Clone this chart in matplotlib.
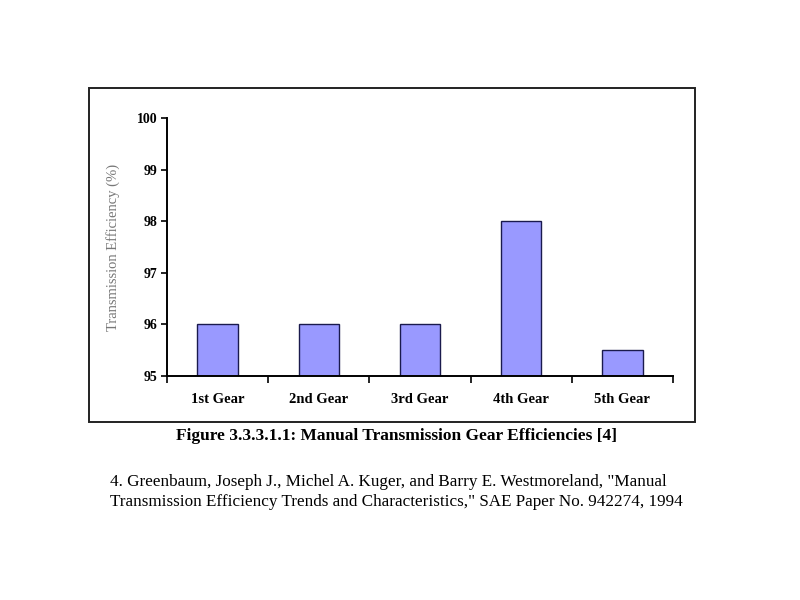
import matplotlib
matplotlib.use("Agg")
import matplotlib.pyplot as plt
from matplotlib.patches import Rectangle
import numpy as np

gears = ["1st Gear", "2nd Gear", "3rd Gear", "4th Gear", "5th Gear"]
efficiency = [96.0, 96.0, 96.0, 98.0, 95.5]
yticks = [95, 96, 97, 98, 99, 100]

plt.rcParams["font.family"] = ["Liberation Serif", "DejaVu Serif"]

fig = plt.figure(figsize=(8, 6), dpi=100)
fig.patch.set_facecolor("white")

# outer frame around chart
fig.add_artist(Rectangle((89/800, 1-422/600), (695-89)/800, (422-88)/600,
                         transform=fig.transFigure, fill=False, ec="#222222", lw=1.4))

ax = fig.add_axes([167/800, 1-376/600, (673-167)/800, (376-118)/600])
x = np.arange(len(gears))
ax.bar(x, np.array(efficiency) - 95, bottom=95, width=0.4,
       color="#9999FF", edgecolor="#1a1a4d", lw=1.0)
ax.set_xlim(-0.5, len(gears) - 0.5)
ax.set_ylim(95, 100)
ax.set_yticks(yticks)
ax.set_yticklabels([str(v) for v in yticks], fontsize=10, fontweight="bold")
ax.set_xticks(x)
ax.set_xticklabels(gears, fontsize=10.5, fontweight="bold")
ax.set_xticks(np.arange(len(gears) + 1) - 0.5, minor=True)
ax.tick_params(axis="x", which="major", length=0, pad=12)
ax.tick_params(axis="x", which="minor", length=5, direction="out", width=1.2)
ax.tick_params(axis="y", length=4, direction="out", width=1.2, pad=3)
ax.spines[["top", "right"]].set_visible(False)
ax.spines["left"].set_linewidth(1.4)
ax.spines["bottom"].set_linewidth(1.4)
ax.set_ylabel("Transmission Efficiency (%)", fontsize=10.5, color="#777777", labelpad=12)

fig.text(396/800, 1-436/600, "Figure 3.3.3.1.1: Manual Transmission Gear Efficiencies [4]",
         ha="center", va="center", fontsize=12.5, fontweight="bold")
fig.text(110/800, 1-482/600,
         "4. Greenbaum, Joseph J., Michel A. Kuger, and Barry E. Westmoreland, \"Manual",
         ha="left", va="center", fontsize=12.3)
fig.text(110/800, 1-502/600,
         "Transmission Efficiency Trends and Characteristics,\" SAE Paper No. 942274, 1994",
         ha="left", va="center", fontsize=12.3)

fig.savefig("out.png", dpi=100)
